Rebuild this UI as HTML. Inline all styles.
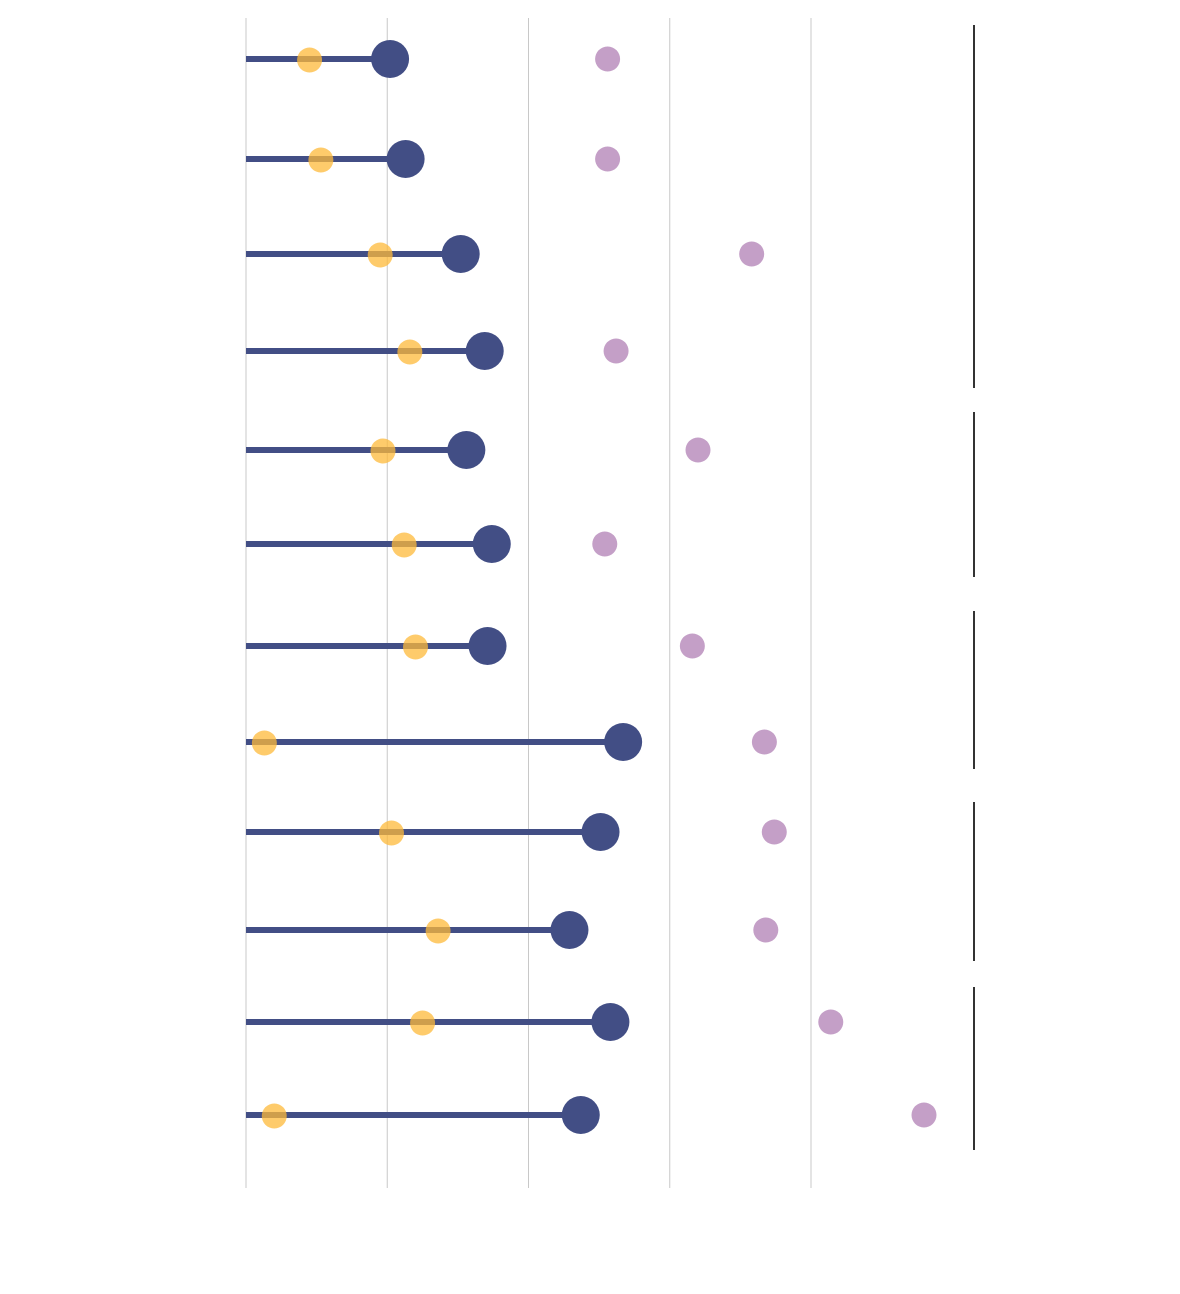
<!DOCTYPE html>
<html><head><meta charset="utf-8">
<style>html,body{margin:0;padding:0;background:#fff;}svg{display:block;}</style>
</head><body>
<svg id="chart" width="1180" height="1294" xmlns="http://www.w3.org/2000/svg"></svg>
<script>
const rowYs = [59,159,254,351,450,544,646,742,832,930,1022,1115];
const navyValues = [1.02,1.13,1.52,1.69,1.56,1.74,1.71,2.67,2.51,2.29,2.58,2.37];
const orangeValues = [0.45,0.53,0.95,1.16,0.97,1.12,1.20,0.13,1.03,1.36,1.25,0.20];
const purpleValues = [2.56,2.56,3.58,2.62,3.20,2.54,3.16,3.67,3.74,3.68,4.14,4.80];
const gridTicks = [0,1,2,3,4];
const groupRanges = [[25,388],[412,577],[611,769],[802,961],[987,1150]];

const svg = document.getElementById('chart');
const NS = 'http://www.w3.org/2000/svg';
const x0 = 246, unit = 141.25;
function xScale(v){ return x0 + v*unit; }
function mk(tag, attrs){ const e=document.createElementNS(NS,tag); for(const k in attrs) e.setAttribute(k,attrs[k]); svg.appendChild(e); return e; }

gridTicks.forEach(t=>{
  const l = mk('line',{x1:xScale(t),x2:xScale(t),y1:18,y2:1188,stroke:'#c8c8c8','stroke-width':1});
  
  
});
groupRanges.forEach(r=>{
  const l = mk('line',{x1:974,x2:974,y1:r[0],y2:r[1],stroke:'#333','stroke-width':2});
  
  
});
rowYs.forEach((y,i)=>{
  const bar = mk('line',{x1:xScale(0),x2:xScale(navyValues[i]),y1:y,y2:y,stroke:'#424e85','stroke-width':6});
  
  
  const p = mk('circle',{cx:xScale(purpleValues[i]),cy:y,r:12.5,fill:'#c49fc7'});
  
  
  const n = mk('circle',{cx:xScale(navyValues[i]),cy:y,r:19,fill:'#424e85'});
  
  
  const o = mk('circle',{cx:xScale(orangeValues[i]),cy:y+1,r:12.5,fill:'#fdb93a','fill-opacity':0.75});
  
  
});
</script>
</body></html>
